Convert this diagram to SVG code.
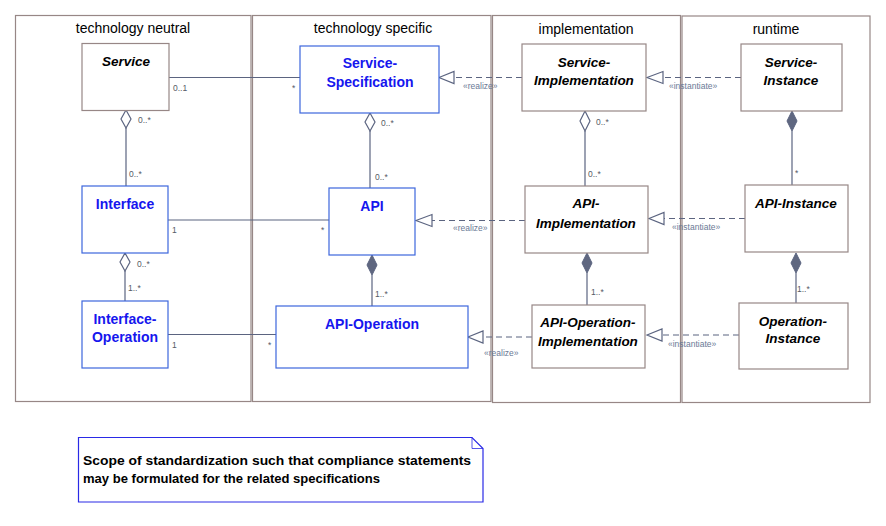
<svg xmlns="http://www.w3.org/2000/svg" width="886" height="526" viewBox="0 0 886 526">
<style>
.panel{fill:none;stroke:#978786;stroke-width:1.2}
.title{font-family:"Liberation Sans",Arial,sans-serif;font-size:14px;fill:#000;text-anchor:middle}
.nb{fill:#fff;stroke:#978786;stroke-width:1.2}
.nbb{fill:#fff;stroke:#3d66dd;stroke-width:1.2}
.tb{font-family:"Liberation Sans",Arial,sans-serif;font-size:14px;font-weight:bold;fill:#1616ee;text-anchor:middle}
.ti{font-family:"Liberation Sans",Arial,sans-serif;font-size:13.5px;font-weight:bold;font-style:italic;fill:#000;text-anchor:middle}
.ln{fill:none;stroke:#5b6480;stroke-width:1.2}
.dl{fill:none;stroke:#5b6480;stroke-width:1.2;stroke-dasharray:6,4}
.tri{fill:#fff;stroke:#5b6480;stroke-width:1.2}
.hd{fill:#fff;stroke:#5b6480;stroke-width:1.2}
.fd{fill:#5f6780;stroke:#5b6480;stroke-width:1}
.m{font-family:"Liberation Sans",Arial,sans-serif;font-size:8.5px;fill:#555a66}
.st{font-family:"Liberation Sans",Arial,sans-serif;font-size:8.5px;fill:#6a7a96}
.note{font-family:"Liberation Sans",Arial,sans-serif;font-size:12.5px;font-weight:bold;fill:#000}
</style>
<rect width="886" height="526" fill="#fff"/>
<g id="panels">
<rect class="panel" x="15.5" y="15.5" width="235.5" height="386"/>
<rect class="panel" x="252.5" y="15.5" width="238.5" height="386"/>
<rect class="panel" x="492.5" y="15.5" width="188" height="387"/>
<rect class="panel" x="682" y="16" width="188" height="386.5"/>
<text class="title" x="133" y="33">technology neutral</text>
<text class="title" x="373" y="33">technology specific</text>
<text class="title" x="586" y="34">implementation</text>
<text class="title" x="776" y="34">runtime</text>
</g>
<g id="connectors">
<line class="ln" x1="169" y1="77.5" x2="300" y2="77.5"/>
<text class="m" x="173" y="91">0..1</text>
<text class="m" x="292" y="91">*</text>
<line class="ln" x1="126" y1="128" x2="126" y2="186"/>
<path class="hd" d="M126,110 L131,119 L126,128 L121,119 Z"/>
<text class="m" x="138" y="123">0..*</text>
<text class="m" x="129" y="177">0..*</text>
<line class="ln" x1="168" y1="220" x2="329" y2="220"/>
<text class="m" x="172" y="233">1</text>
<text class="m" x="321" y="233">*</text>
<line class="ln" x1="125" y1="271" x2="125" y2="301"/>
<path class="hd" d="M125,253 L130,262 L125,271 L120,262 Z"/>
<text class="m" x="137" y="267">0..*</text>
<text class="m" x="128" y="291">1..*</text>
<line class="ln" x1="168" y1="334.5" x2="276" y2="334.5"/>
<text class="m" x="172" y="348">1</text>
<text class="m" x="268" y="348">*</text>
<line class="ln" x1="370" y1="131" x2="370" y2="188"/>
<path class="hd" d="M370,113 L375,122 L370,131 L365,122 Z"/>
<text class="m" x="381" y="126">0..*</text>
<text class="m" x="375" y="180">0..*</text>
<line class="ln" x1="372" y1="275" x2="372" y2="306"/>
<path class="fd" d="M372,255 L377,265 L372,275 L367,265 Z"/>
<text class="m" x="375" y="297">1..*</text>
<line class="dl" x1="522" y1="77.5" x2="454" y2="77.5"/>
<path class="tri" d="M439,77.5 L454,71.5 L454,83.5 Z"/>
<text class="st" x="463" y="89">«realize»</text>
<line class="dl" x1="741" y1="77.5" x2="663" y2="77.5"/>
<path class="tri" d="M647,77.5 L663,71.5 L663,83.5 Z"/>
<text class="st" x="669" y="89">«instantiate»</text>
<line class="ln" x1="585" y1="131" x2="585" y2="186"/>
<path class="hd" d="M585,111 L590,121 L585,131 L580,121 Z"/>
<text class="m" x="596" y="125">0..*</text>
<text class="m" x="588" y="177">0..*</text>
<line class="ln" x1="792" y1="131" x2="792" y2="185"/>
<path class="fd" d="M792,111 L797,121 L792,131 L787,121 Z"/>
<text class="m" x="795" y="176">*</text>
<line class="dl" x1="525" y1="220.5" x2="432" y2="220.5"/>
<path class="tri" d="M416,220.5 L432,214.5 L432,226.5 Z"/>
<text class="st" x="453" y="231">«realize»</text>
<line class="dl" x1="745" y1="218.5" x2="664" y2="218.5"/>
<path class="tri" d="M649,218.5 L664,212.5 L664,224.5 Z"/>
<text class="st" x="672" y="230">«instantiate»</text>
<line class="ln" x1="587" y1="273" x2="587" y2="305"/>
<path class="fd" d="M587,253 L592,263 L587,273 L582,263 Z"/>
<text class="m" x="591" y="295">1..*</text>
<line class="ln" x1="796" y1="273" x2="796" y2="303"/>
<path class="fd" d="M796,253 L801,263 L796,273 L791,263 Z"/>
<text class="m" x="797" y="292">1..*</text>
<line class="dl" x1="532" y1="337" x2="483" y2="337"/>
<path class="tri" d="M468,337 L483,331 L483,343 Z"/>
<text class="st" x="484" y="356">«realize»</text>
<line class="dl" x1="739" y1="335" x2="662" y2="335"/>
<path class="tri" d="M647,335 L662,329 L662,341 Z"/>
<text class="st" x="668" y="347">«instantiate»</text>
</g>
<g id="service">
<rect class="nb" x="82" y="43.5" width="87" height="67"/>
<text class="ti" x="126" y="66">Service</text>
</g>
<g id="service-specification">
<rect class="nbb" x="300" y="46" width="139" height="67"/>
<text class="tb" x="370" y="68">Service-</text>
<text class="tb" x="370" y="87">Specification</text>
</g>
<g id="service-implementation">
<rect class="nb" x="522" y="44" width="124" height="67"/>
<text class="ti" x="584" y="67">Service-</text>
<text class="ti" x="584" y="85">Implementation</text>
</g>
<g id="service-instance">
<rect class="nb" x="741" y="44" width="101" height="67"/>
<text class="ti" x="791" y="67">Service-</text>
<text class="ti" x="791" y="85">Instance</text>
</g>
<g id="interface">
<rect class="nbb" x="82" y="186" width="86" height="67"/>
<text class="tb" x="125" y="209">Interface</text>
</g>
<g id="api">
<rect class="nbb" x="329" y="188" width="86" height="67"/>
<text class="tb" x="372" y="211">API</text>
</g>
<g id="api-implementation">
<rect class="nb" x="525" y="186" width="123" height="67"/>
<text class="ti" x="586" y="208">API-</text>
<text class="ti" x="586" y="228">Implementation</text>
</g>
<g id="api-instance">
<rect class="nb" x="745" y="185" width="103" height="67"/>
<text class="ti" x="796" y="208">API-Instance</text>
</g>
<g id="interface-operation">
<rect class="nbb" x="82" y="301" width="86" height="67"/>
<text class="tb" x="125" y="324">Interface-</text>
<text class="tb" x="125" y="342">Operation</text>
</g>
<g id="api-operation">
<rect class="nbb" x="276" y="306" width="192" height="62"/>
<text class="tb" x="372" y="329">API-Operation</text>
</g>
<g id="api-operation-implementation">
<rect class="nb" x="532" y="305" width="113" height="63"/>
<text class="ti" x="588" y="327">API-Operation-</text>
<text class="ti" x="588" y="346">Implementation</text>
</g>
<g id="operation-instance">
<rect class="nb" x="739" y="303" width="109" height="66"/>
<text class="ti" x="793" y="326">Operation-</text>
<text class="ti" x="793" y="343">Instance</text>
</g>
<g id="note">
<path d="M78.5,437.5 L472,437.5 L483,448.5 L483,502 L78.5,502 Z" fill="#fff" stroke="#2a2ae6" stroke-width="1.2"/>
<path d="M472,437.5 L472,448.5 L483,448.5" fill="none" stroke="#2a2ae6" stroke-width="0.8"/>
<text class="note" x="83" y="465" textLength="388" lengthAdjust="spacingAndGlyphs">Scope of standardization such that compliance statements</text>
<text class="note" x="83" y="483" textLength="297" lengthAdjust="spacingAndGlyphs">may be formulated for the related specifications</text>
</g>
</svg>
